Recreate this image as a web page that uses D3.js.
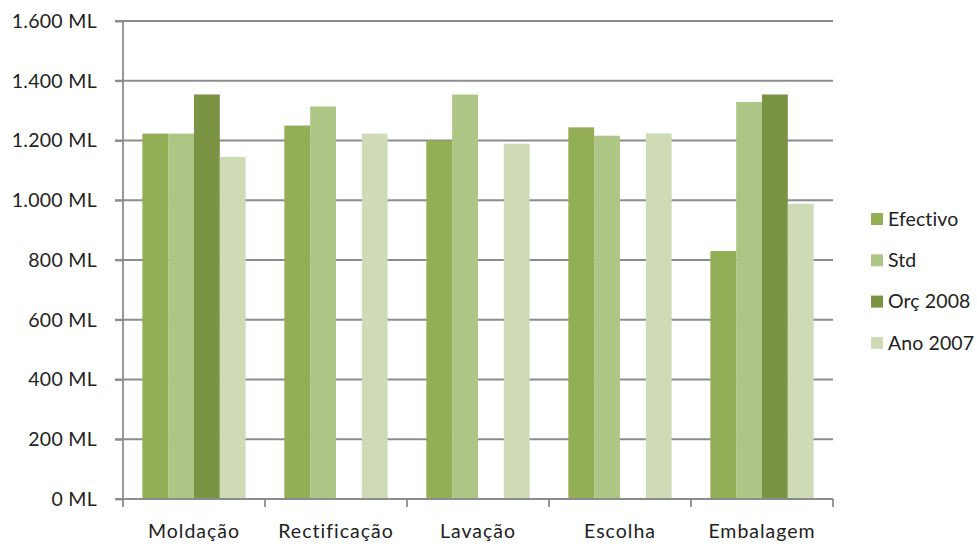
<!DOCTYPE html>
<html><head><meta charset="utf-8">
<script src="https://cdn.jsdelivr.net/npm/d3@7/dist/d3.min.js"></script>
<style>body{margin:0;background:#fff}</style>
</head><body>
<svg id="c" width="977" height="548"></svg>
<script>
const categories = ["Moldação","Rectificação","Lavação","Escolha","Embalagem"];
const seriesNames = ["Efectivo","Std","Orç 2008","Ano 2007"];
const efectivo = [1223,1250,1200,1244,830];
const std = [1223,1314,1354,1216,1329];
const orc2008 = [1354,0,0,0,1354];
const ano2007 = [1145,1223,1189,1224,988];
const yTicks = [0,200,400,600,800,1000,1200,1400,1600];
const colors = ["#93ae55","#aec685","#7a9444","#cedbb6"];
const seriesValues = [efectivo,std,orc2008,ano2007];

const svg = d3.select("#c");
const font = "Lato, 'Open Sans', sans-serif";
const fs = 19.5;
const x0 = d3.scaleBand().domain(categories).range([123,833]).paddingInner(0).paddingOuter(0);
const y = d3.scaleLinear().domain([0,1600]).range([499,21]);
const gap = 1.5;
const bw = x0.bandwidth()/(4+gap);

// gridlines
svg.append("g").selectAll("line").data(yTicks).join("line")
  .attr("x1",115).attr("x2",833).attr("y1",d=>y(d)).attr("y2",d=>y(d))
  .attr("stroke","#8c8c8c").attr("stroke-width",1.8);

// bars
categories.forEach((c,i)=>{
  seriesValues.forEach((vals,s)=>{
    const v = vals[i];
    if(!v) return;
    svg.append("rect")
      .attr("x", x0(c)+bw*gap/2 + s*bw)
      .attr("y", y(v))
      .attr("width", bw)
      .attr("height", y(0)-y(v))
      .attr("fill", colors[s]);
  });
});

// y axis
const yAxis = d3.axisLeft(y).tickValues(yTicks).tickSize(8).tickPadding(18)
  .tickFormat(d=>d3.format(",")(d).replace(/,/g,".")+" ML");
const gy = svg.append("g").attr("transform","translate(123,0)").call(yAxis);
gy.select(".domain").attr("stroke","#8c8c8c").attr("stroke-width",1.8).attr("d","M0,21V499");
gy.selectAll(".tick line").attr("stroke","#8c8c8c").attr("stroke-width",1.8);
gy.selectAll("text").attr("font-family",font).attr("font-size",fs).attr("fill","#222").attr("letter-spacing","0.3");

// x axis
const xAxis = d3.axisBottom(x0).tickSize(0).tickPadding(25);
const gx = svg.append("g").attr("transform","translate(0,499)").call(xAxis);
gx.select(".domain").attr("stroke","#8c8c8c").attr("stroke-width",1.8).attr("d","M123,0H833");
gx.selectAll("text").attr("font-family",font).attr("font-size",fs).attr("fill","#222").attr("letter-spacing","1");
const xt = [123,...categories.map(c=>x0(c)+x0.bandwidth())];
svg.append("g").selectAll("line").data(xt).join("line")
  .attr("x1",d=>d).attr("x2",d=>d).attr("y1",499).attr("y2",507)
  .attr("stroke","#8c8c8c").attr("stroke-width",1.8);

// legend
const lg = svg.append("g");
seriesNames.forEach((n,i)=>{
  const cy = 219 + i*41.3;
  lg.append("rect").attr("x",871).attr("y",cy-6).attr("width",12).attr("height",12).attr("fill",colors[i]);
  lg.append("text").attr("x",888).attr("y",cy).attr("dy","0.35em")
    .attr("font-family",font).attr("font-size",fs).attr("fill","#222").attr("letter-spacing","0.1").text(n);
});
</script>
</body></html>
